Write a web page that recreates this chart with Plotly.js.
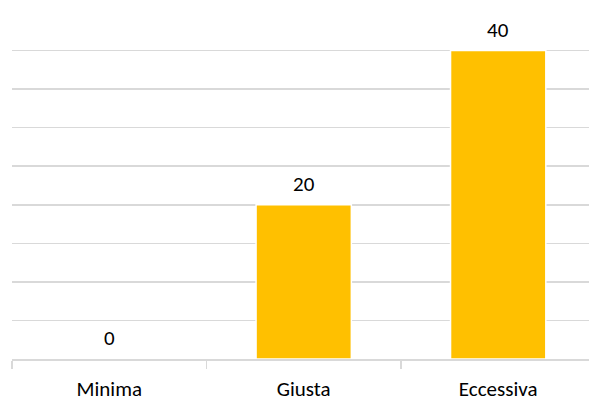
<!DOCTYPE html>
<html>
<head>
<meta charset="utf-8">
<script src="https://cdn.plot.ly/plotly-3.0.1.min.js"></script>
<style>html,body{margin:0;padding:0;background:#fff;}#chart{width:589px;height:403px;}</style>
</head>
<body>
<div id="chart"></div>
<script>
const categories = ["Minima", "Giusta", "Eccessiva"];
const values = [0, 20, 40];
const valueLabels = ["0", "20", "40"];

const font = "Carlito, Lato, 'Open Sans', 'Liberation Sans', sans-serif";

const trace = {
  type: "bar",
  x: categories,
  y: values,
  marker: {color: "#FFC000", line: {color: "#ffffff", width: 1.5}},
  width: 0.49,
  hoverinfo: "none"
};

const annotations = categories.map((c, i) => ({
  x: c, y: values[i], xref: "x", yref: "y",
  text: valueLabels[i], showarrow: false,
  yanchor: "bottom", yshift: 6,
  font: {family: font, size: 21, color: "#000000"}
}));

const layout = {
  width: 589, height: 403,
  margin: {l: 12, r: 0, t: 12, b: 44},
  paper_bgcolor: "#ffffff", plot_bgcolor: "#ffffff",
  showlegend: false,
  bargap: 0.51,
  xaxis: {
    type: "category",
    range: [-0.5, 2.467],
    showgrid: false,
    showline: true, linecolor: "#d9d9d9", linewidth: 1.5,
    ticks: "outside", tickson: "boundaries", ticklen: 8, tickcolor: "#d9d9d9", tickwidth: 1.5,
    ticklabelstandoff: 10,
    tickfont: {family: font, size: 21, color: "#000000"},
    fixedrange: true
  },
  yaxis: {
    range: [0, 45], dtick: 5,
    showgrid: true, gridcolor: "#d9d9d9", gridwidth: 1.5,
    zeroline: false, showticklabels: false, ticks: "",
    fixedrange: true
  },
  annotations: annotations
};

Plotly.newPlot("chart", [trace], layout, {displayModeBar: false, staticPlot: true});
</script>
</body>
</html>
